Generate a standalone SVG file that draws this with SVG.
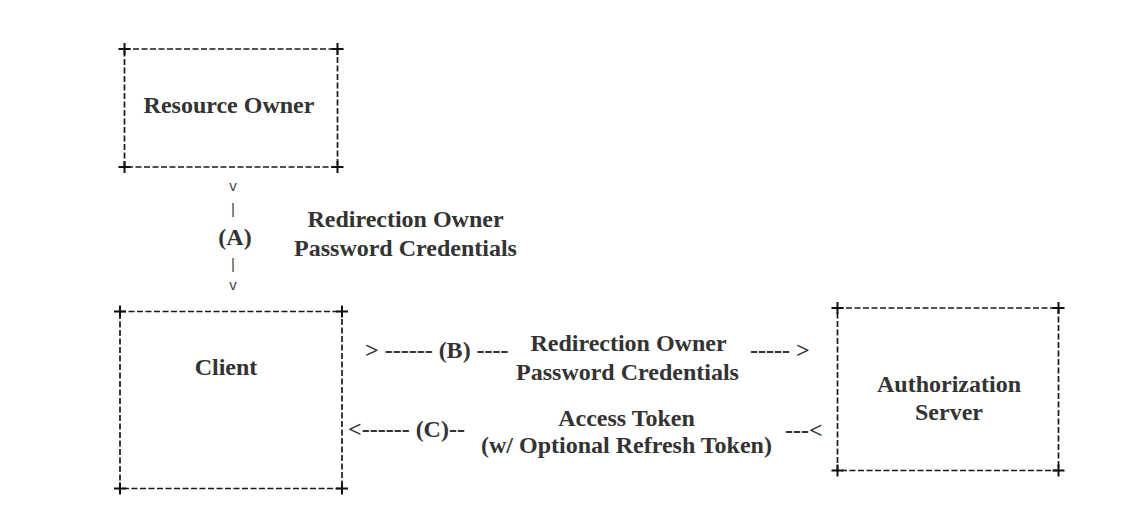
<svg xmlns="http://www.w3.org/2000/svg" width="1138" height="520" viewBox="0 0 1138 520">
<style>
.box{fill:none;stroke:#1a1a1a;stroke-width:1.7;stroke-dasharray:6 2.5}
.plus{stroke:#111;stroke-width:2;fill:none}
.t{font-family:"Liberation Serif","Times New Roman",serif;font-weight:bold;font-size:24px;fill:#333}
.m{text-anchor:middle}
.s{font-family:"Liberation Sans",Arial,sans-serif;font-size:15px;fill:#444;text-anchor:middle}
</style>
<defs>
<path id="p" class="plus" d="M-6 0H6M0 -6V6"/>
</defs>
<rect width="1138" height="520" fill="#fff"/>
<g id="resource-owner">
<rect class="box" x="124.5" y="49" width="213" height="118"/>
<use href="#p" x="124.5" y="49"/><use href="#p" x="337.5" y="49"/><use href="#p" x="124.5" y="167"/><use href="#p" x="337.5" y="167"/>
<text class="t m" x="229" y="113">Resource Owner</text>
</g>
<g id="client">
<rect class="box" x="120" y="311.5" width="222" height="177"/>
<use href="#p" x="120" y="311.5"/><use href="#p" x="342" y="311.5"/><use href="#p" x="120" y="488.5"/><use href="#p" x="342" y="488.5"/>
<text class="t m" x="226" y="375">Client</text>
</g>
<g id="authorization-server">
<rect class="box" x="837.5" y="308" width="221" height="162.5"/>
<use href="#p" x="837.5" y="308"/><use href="#p" x="1058.5" y="308"/><use href="#p" x="837.5" y="470.5"/><use href="#p" x="1058.5" y="470.5"/>
<text class="t m" x="949" y="392">Authorization</text>
<text class="t m" x="949" y="420">Server</text>
</g>
<g id="connectors">
<text class="s" x="233" y="191">v</text>
<text class="s" x="233" y="214">|</text>
<text class="t m" x="235" y="245">(A)</text>
<text class="s" x="233" y="269">|</text>
<text class="s" x="233" y="290">v</text>
<text class="t m" x="405.5" y="227">Redirection Owner</text>
<text class="t m" x="405.5" y="256">Password Credentials</text>
<text class="t" x="365" y="358">&gt; ------ (B) ----</text>
<text class="t m" x="628.5" y="351">Redirection Owner</text>
<text class="t m" x="627.5" y="380">Password Credentials</text>
<text class="t" x="750" y="358">----- &gt;</text>
<text class="t" x="348" y="437">&lt;------ (C)--</text>
<text class="t m" x="626.5" y="426">Access Token</text>
<text class="t m" x="626.5" y="453">(w/ Optional Refresh Token)</text>
<text class="t" x="785" y="438">---&lt;</text>
</g>
</svg>
